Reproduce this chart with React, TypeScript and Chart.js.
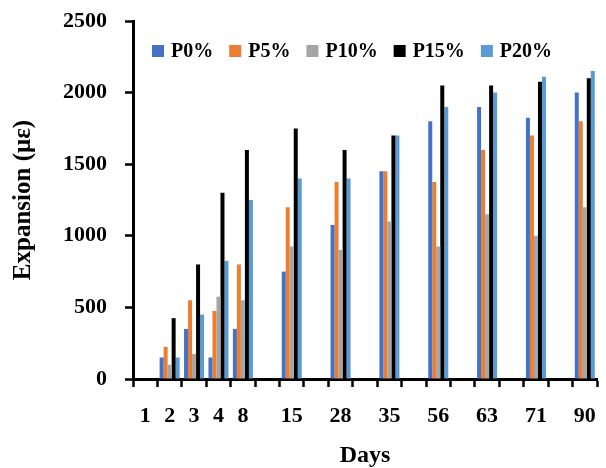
import React, { useEffect, useRef } from 'react';
import { Chart, registerables } from 'chart.js';

Chart.register(...registerables);

// Day labels (blank slots are empty categories on the axis)
const dayLabels = ['1', '2', '3', '4', '8', '', '15', '', '28', '', '35', '', '56', '', '63', '', '71', '', '90'];

const p0 = [0, 150, 350, 150, 350, null, 750, null, 1075, null, 1450, null, 1800, null, 1900, null, 1825, null, 2000];
const p5 = [0, 225, 550, 475, 800, null, 1200, null, 1375, null, 1450, null, 1375, null, 1600, null, 1700, null, 1800];
const p10 = [0, 100, 175, 575, 550, null, 925, null, 900, null, 1100, null, 925, null, 1150, null, 1000, null, 1200];
const p15 = [0, 425, 800, 1300, 1600, null, 1750, null, 1600, null, 1700, null, 2050, null, 2050, null, 2075, null, 2100];
const p20 = [0, 150, 450, 825, 1250, null, 1400, null, 1400, null, 1700, null, 1900, null, 2000, null, 2110, null, 2150];

const seriesNames = ['P0%', 'P5%', 'P10%', 'P15%', 'P20%'];
const seriesColors = ['#4472C4', '#ED7D31', '#A5A5A5', '#000000', '#5B9BD5'];
const seriesData = [p0, p5, p10, p15, p20];

const yMin = 0;
const yMax = 2500;
const yStep = 500;

const FONT = '"Liberation Serif", "Times New Roman", serif';

const innerLegend = {
  id: 'innerLegend',
  afterDraw(chart: any) {
    const { ctx, chartArea } = chart;
    ctx.save();
    ctx.font = `bold 20px ${FONT}`;
    ctx.textBaseline = 'middle';
    ctx.textAlign = 'left';
    let x = chartArea.left + 19;
    const y = chartArea.top + 30;
    chart.data.datasets.forEach((ds: any) => {
      ctx.fillStyle = ds.backgroundColor;
      ctx.fillRect(x, y - 6, 12, 12);
      x += 12 + 7;
      ctx.fillStyle = '#000';
      ctx.fillText(ds.label, x, y + 1);
      x += ctx.measureText(ds.label).width + 16;
    });
    ctx.restore();
  },
};

const whiteBg = {
  id: 'whiteBg',
  beforeDraw(chart: any) {
    const { ctx, width, height } = chart;
    ctx.save();
    ctx.fillStyle = '#fff';
    ctx.fillRect(0, 0, width, height);
    ctx.restore();
  },
};

export default function App() {
  const ref = useRef<HTMLCanvasElement | null>(null);

  useEffect(() => {
    if (!ref.current) return;
    const chart = new Chart(ref.current, {
      type: 'bar',
      data: {
        labels: dayLabels,
        datasets: seriesNames.map((name, i) => ({
          label: name,
          data: seriesData[i],
          backgroundColor: seriesColors[i],
          borderWidth: 0,
          categoryPercentage: 0.82,
          barPercentage: 1.0,
        })),
      },
      options: {
        responsive: false,
        animation: false,
        layout: { padding: { left: 0, top: 21, right: 9, bottom: 0 } },
        plugins: {
          legend: { display: false },
          tooltip: { enabled: false },
        },
        scales: {
          x: {
            grid: {
              display: true,
              drawOnChartArea: false,
              drawTicks: true,
              tickLength: 8,
              tickWidth: 2.5,
              tickColor: '#000',
              offset: true,
            },
            border: { display: true, color: '#000', width: 3 },
            ticks: {
              color: '#000',
              font: { family: FONT, size: 22, weight: 'bold' },
              padding: 16,
              autoSkip: false,
              maxRotation: 0,
            },
            title: {
              display: true,
              text: 'Days',
              color: '#000',
              font: { family: FONT, size: 24, weight: 'bold', lineHeight: 1 },
              padding: { top: 0, bottom: 0 },
            },
            afterFit: (scale: any) => {
              scale.height = 89;
              scale.paddingLeft = 0;
              scale.paddingRight = 0;
            },
          },
          y: {
            min: yMin,
            max: yMax,
            grid: {
              display: true,
              drawOnChartArea: false,
              drawTicks: true,
              tickLength: 8,
              tickWidth: 2.5,
              tickColor: '#000',
            },
            border: { display: true, color: '#000', width: 3 },
            ticks: {
              stepSize: yStep,
              color: '#000',
              font: { family: FONT, size: 22, weight: 'bold' },
              padding: 18,
              callback: (v: any) => String(v),
            },
            title: {
              display: true,
              text: 'Expansion (με)',
              color: '#000',
              font: { family: FONT, size: 25, weight: 'bold', lineHeight: 1 },
              padding: { top: 11, bottom: 0 },
            },
            afterFit: (scale: any) => {
              scale.width = 133;
              scale.paddingTop = 0;
              scale.paddingBottom = 0;
            },
          },
        },
      },
      plugins: [whiteBg, innerLegend],
    });
    return () => chart.destroy();
  }, []);

  return (
    <div style={{ position: 'fixed', left: 0, top: 0, width: 606, height: 468, background: '#fff' }}>
      <canvas ref={ref} width={606} height={468} style={{ width: 606, height: 468, display: 'block' }} />
    </div>
  );
}
